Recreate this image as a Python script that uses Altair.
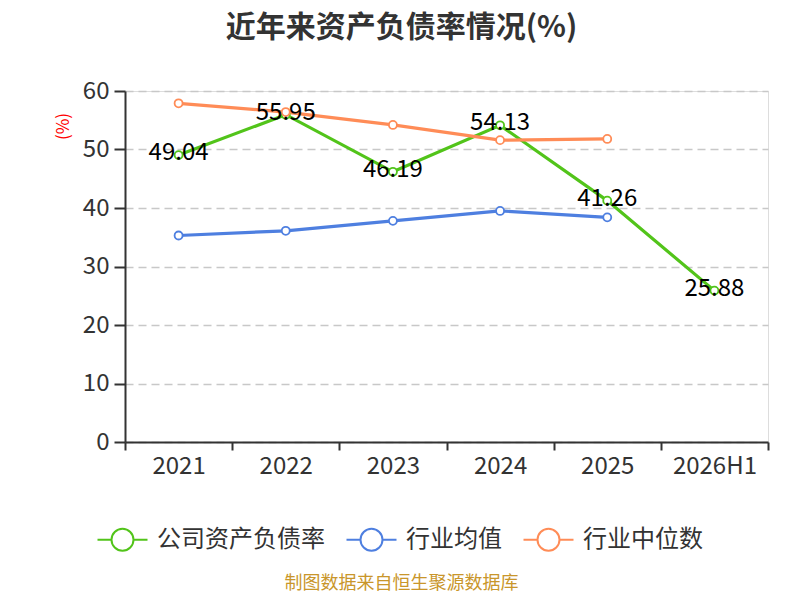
import altair as alt
import pandas as pd

years = ["2021", "2022", "2023", "2024", "2025", "2026H1"]
series_names = ["公司资产负债率", "行业均值", "行业中位数"]
company = [49.04, 55.95, 46.19, 54.13, 41.26, 25.88]
industry_avg = [35.3, 36.1, 37.8, 39.5, 38.4]
industry_median = [57.9, 56.4, 54.2, 51.6, 51.8]
colors = ["#52c41a", "#4e7fe0", "#ff8c57"]

rows = []
for name, vals in zip(series_names, [company, industry_avg, industry_median]):
    for y, v in zip(years, vals):
        rows.append({"year": y, "series": name, "value": v})
df = pd.DataFrame(rows)
df_company = pd.DataFrame({"year": years, "value": company})

FONT = "Noto Sans CJK SC"

x_enc = alt.X(
    "year:N",
    sort=years,
    scale=alt.Scale(type="band", paddingInner=0, paddingOuter=0),
    axis=alt.Axis(
        title="制图数据来自恒生聚源数据库",
        titleColor="#c9962b",
        titleFontSize=18,
        titleFontWeight="normal",
        titleFont=FONT,
        titleX=276,
        titleY=141,
        titleAlign="center",
        titleBaseline="middle",
        labelAngle=0,
        labelFontSize=24,
        labelColor="#333333",
        labelFont=FONT,
        labelPadding=4,
        tickBand="extent",
        tickSize=8,
        tickWidth=2,
        tickColor="#333333",
        domainColor="#333333",
        domainWidth=2,
        grid=False,
    ),
)
y_enc = alt.Y(
    "value:Q",
    scale=alt.Scale(domain=[0, 60], nice=False, zero=True),
    axis=alt.Axis(
        title="(%)",
        titleColor="#ff0000",
        titleFontSize=17,
        titleFontWeight="normal",
        titleFont=FONT,
        titleX=-62,
        titleY=35,
        titleAlign="center",
        titleBaseline="middle",
        titleAngle=-90,
        values=[0, 10, 20, 30, 40, 50, 60],
        labelFontSize=24,
        labelColor="#333333",
        labelFont=FONT,
        labelPadding=5,
        tickSize=11,
        tickWidth=2,
        tickColor="#333333",
        domainColor="#333333",
        domainWidth=2,
        grid=True,
        gridColor="#c8c8c8",
        gridDash=[8, 5],
        gridWidth=1.5,
    ),
)

legend_path = "M-2,0L-0.88,0M0.88,0L2,0M0.88,0A0.88,0.88,0,1,1,-0.88,0A0.88,0.88,0,1,1,0.88,0Z"
color_enc = alt.Color(
    "series:N",
    sort=series_names,
    scale=alt.Scale(domain=series_names, range=colors),
    legend=alt.Legend(
        title=None,
        orient="none",
        direction="horizontal",
        legendX=-16,
        legendY=435,
        symbolType=legend_path,
        symbolSize=625,
        symbolStrokeWidth=2,
        symbolFillColor="white",
        labelFontSize=24,
        labelFont=FONT,
        labelColor="#333333",
        labelOffset=21,
        labelLimit=400,
        columnPadding=17,
    ),
)

lines = alt.Chart(df).mark_line(strokeWidth=3.2).encode(x=x_enc, y=y_enc, color=color_enc)
points = alt.Chart(df).mark_point(
    filled=False, fill="white", fillOpacity=1, size=64, strokeWidth=1.8, opacity=1
).encode(x=x_enc, y=y_enc, stroke=alt.Color("series:N", scale=alt.Scale(domain=series_names, range=colors), legend=None))
labels = alt.Chart(df_company).mark_text(
    fontSize=24, font=FONT, color="#000000", dy=-2
).encode(x=alt.X("year:N", sort=years), y=alt.Y("value:Q"), text=alt.Text("value:Q", format=".2f"))

chart = alt.layer(lines, points, labels).properties(
    width=643,
    height=351,
    title=alt.TitleParams(
        text="近年来资产负债率情况(%)",
        fontSize=30,
        fontWeight="bold",
        font=FONT,
        color="#333333",
        anchor="middle",
        frame="group",
        dx=-45,
        offset=36,
    ),
    autosize=alt.AutoSizeParams(type="none"),
    padding={"left": 117, "top": 83, "right": 24, "bottom": 150},
).configure_view(stroke=None).configure(background="white")

chart.save("out.html", embed_options={"renderer": "svg", "actions": False})
